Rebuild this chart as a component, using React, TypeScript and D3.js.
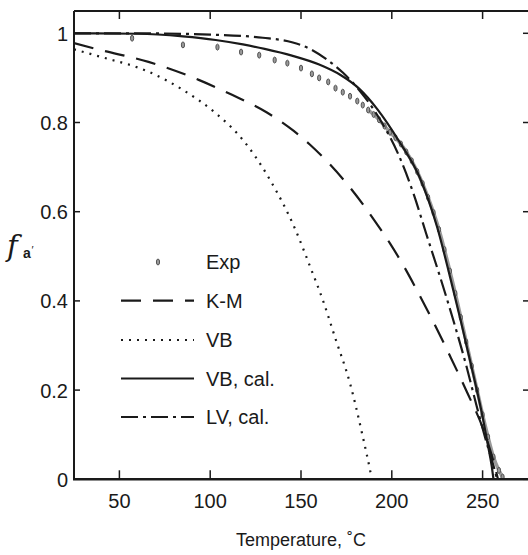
import React from 'react';
import * as d3 from 'd3';

// values: temperature (C) and fraction f
const kmT = [25, 39, 66, 94, 112, 131, 146, 155, 165, 177, 190, 199, 207, 216, 223, 232, 241, 251, 256, 258.5];
const kmF = [0.978, 0.963, 0.936, 0.895, 0.862, 0.823, 0.781, 0.75, 0.71, 0.654, 0.583, 0.529, 0.475, 0.407, 0.352, 0.277, 0.199, 0.105, 0.04, 0];

const vbT = [25, 39, 66, 85, 103, 118, 133, 147, 155, 162, 169, 177, 184, 188, 189];
const vbF = [0.964, 0.948, 0.914, 0.873, 0.821, 0.761, 0.671, 0.559, 0.477, 0.402, 0.315, 0.215, 0.096, 0.021, 0];

const vbCalT = [25, 60, 85, 103, 118, 130, 145, 160, 172, 182, 192, 204, 215, 225, 232, 238, 242, 246, 250, 253, 255, 256];
const vbCalF = [1.0, 0.999, 0.993, 0.985, 0.975, 0.965, 0.95, 0.93, 0.906, 0.876, 0.83, 0.758, 0.68, 0.565, 0.455, 0.355, 0.285, 0.215, 0.14, 0.075, 0.03, 0];

const lvT = [25, 60, 100, 129, 145, 155, 164, 173, 182, 193, 204, 212, 219, 226.5, 234, 241, 247, 252, 256, 258];
const lvF = [1.0, 1.0, 0.997, 0.99, 0.98, 0.965, 0.942, 0.912, 0.873, 0.81, 0.725, 0.64, 0.55, 0.455, 0.355, 0.255, 0.16, 0.085, 0.03, 0];

const expT = [57, 85, 104, 117, 127, 135.5, 142.5, 150, 156, 160, 165, 169, 173, 177, 181, 184, 187, 190, 193, 196, 199, 202, 205, 208, 211, 214, 217, 220, 223, 226, 229, 232, 235, 238, 241, 244, 247, 250, 253, 256, 259, 261];
const expF = [0.989, 0.974, 0.969, 0.958, 0.951, 0.94, 0.933, 0.922, 0.909, 0.9, 0.891, 0.877, 0.868, 0.859, 0.848, 0.839, 0.828, 0.818, 0.806, 0.792, 0.778, 0.766, 0.752, 0.734, 0.714, 0.69, 0.663, 0.632, 0.598, 0.56, 0.515, 0.467, 0.417, 0.363, 0.308, 0.254, 0.2, 0.145, 0.095, 0.05, 0.02, 0.005];

const xTicks = [50, 100, 150, 200, 250];
const yTicks = [0, 0.2, 0.4, 0.6, 0.8, 1];
const yTickLabels = ['0', '0.2', '0.4', '0.6', '0.8', '1'];

const W = 528, H = 555;
const left = 74, right = 528, top = 11, bottom = 479.3;

const x = d3.scaleLinear().domain([25, 275]).range([left, right]);
const y = d3.scaleLinear().domain([0, 1.05]).range([bottom, top]);

const zip = (ts: number[], fs: number[]) => ts.map((t, i) => [t, fs[i]] as [number, number]);

const line = d3.line<[number, number]>()
  .x(d => x(d[0]))
  .y(d => y(d[1]))
  .curve(d3.curveMonotoneX);

const font = 'Liberation Sans, Arial, sans-serif';
const ink = '#1a1a1a';

const series = [
  { name: 'K-M', pts: zip(kmT, kmF), dash: '20 12' },
  { name: 'VB', pts: zip(vbT, vbF), dash: '2 6' },
  { name: 'VB, cal.', pts: zip(vbCalT, vbCalF), dash: null },
  { name: 'LV, cal.', pts: zip(lvT, lvF), dash: '17 5 3 5' },
];

const legendRows = [262, 300.7, 340, 378.5, 417];

export default function App() {
  const exp = zip(expT, expF);
  const dense = exp.filter(d => d[0] >= 187);
  return (
    <svg width={W} height={H} style={{ position: 'absolute', left: 0, top: 0, background: '#fff' }}>
      <defs>
        <clipPath id="plot">
          <rect x={left} y={top} width={right - left} height={bottom - top} />
        </clipPath>
      </defs>
      <rect width={W} height={H} fill="#fff" />

      <g clipPath="url(#plot)">
        <path d={line(dense) || ''} fill="none" stroke="#9a9a9a" strokeWidth={3.5} />
        {exp.map((d, i) => (
          <ellipse key={i} cx={x(d[0])} cy={y(d[1])} rx={1.6} ry={3} fill="#9a9a9a" stroke="#555" strokeWidth={1} />
        ))}
        {series.map(s => (
          <path key={s.name} d={line(s.pts) || ''} fill="none" stroke={ink} strokeWidth={2.2}
            strokeDasharray={s.dash || undefined} />
        ))}
      </g>

      {/* frame */}
      <line x1={left} x2={right} y1={top} y2={top} stroke={ink} strokeWidth={2} />
      <line x1={left} x2={left} y1={top} y2={bottom} stroke={ink} strokeWidth={2} />
      <line x1={left - 1} x2={right} y1={bottom} y2={bottom} stroke={ink} strokeWidth={2.5} />

      {xTicks.map(t => (
        <g key={t}>
          <line x1={x(t)} x2={x(t)} y1={bottom} y2={bottom - 9} stroke={ink} strokeWidth={1.5} />
          <line x1={x(t)} x2={x(t)} y1={top} y2={top + 8} stroke={ink} strokeWidth={1.5} />
          <text x={x(t)} y={508} textAnchor="middle" fontFamily={font} fontSize={20} fill={ink}>{t}</text>
        </g>
      ))}
      {yTicks.map((t, i) => (
        <g key={t}>
          <line x1={left} x2={left + 6} y1={y(t)} y2={y(t)} stroke={ink} strokeWidth={1.5} />
          <line x1={right - 5} x2={right} y1={y(t)} y2={y(t)} stroke={ink} strokeWidth={1.5} />
          <text x={68} y={y(t) + 7.5} textAnchor="end" fontFamily={font} fontSize={20} fill={ink}>{yTickLabels[i]}</text>
        </g>
      ))}

      {/* axis titles */}
      <text x={301} y={546} textAnchor="middle" fontFamily={font} fontSize={18} fill={ink}>Temperature, ˚C</text>
      <text x={7} y={256} fontFamily="DejaVu Serif, Liberation Serif, serif" fontStyle="italic" fontSize={29} fill={ink}>f</text>
      <text x={23} y={258} fontFamily={font} fontSize={14} fontWeight="bold" fill={ink}>a</text>
      <text x={31.5} y={254} fontFamily={font} fontSize={11} fill={ink}>′</text>

      {/* legend */}
      <ellipse cx={158} cy={legendRows[0]} rx={1.6} ry={3} fill="#9a9a9a" stroke="#555" strokeWidth={1} />
      <text x={206} y={legendRows[0]} dominantBaseline="central" fontFamily={font} fontSize={20} fill={ink}>Exp</text>
      {series.map((s, i) => (
        <g key={s.name}>
          <line x1={121} x2={194} y1={legendRows[i + 1]} y2={legendRows[i + 1]} stroke={ink} strokeWidth={2.2}
            strokeDasharray={s.dash || undefined} />
          <text x={206} y={legendRows[i + 1]} dominantBaseline="central" fontFamily={font} fontSize={20} fill={ink}>{s.name}</text>
        </g>
      ))}
    </svg>
  );
}
